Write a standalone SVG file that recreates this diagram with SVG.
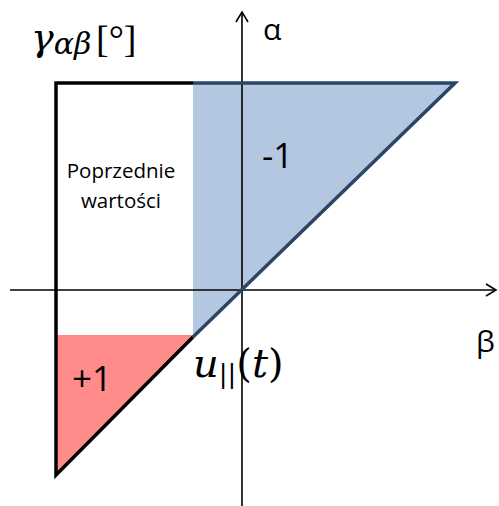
<svg xmlns="http://www.w3.org/2000/svg" width="499" height="506" viewBox="0 0 499 506">
<defs>
<style>
.ax{stroke:#000;stroke-width:1.6;fill:none}
.sans{font-family:"Open Sans","Liberation Sans",sans-serif;fill:#000}
.math{font-family:"DejaVu Serif","Liberation Serif",serif;font-style:italic;fill:#000}
</style>
<marker id="arr" markerWidth="14" markerHeight="14" refX="11" refY="7" orient="auto" markerUnits="userSpaceOnUse">
<path d="M1,1 L11,7 L1,13" fill="none" stroke="#000" stroke-width="1.6"/>
</marker>
</defs>
<rect width="499" height="506" fill="#fff"/>
<g id="regions">
<polygon id="minus-region" points="193,83 455,83 193,337" fill="#B3C7E1"/>
<polygon id="plus-region" points="56,335 193,335 193,337 56,475" fill="#FF8B8B"/>
</g>
<g id="connectors">
<line class="ax" x1="242" y1="506" x2="242" y2="12" marker-end="url(#arr)"/>
<line class="ax" x1="10" y1="290" x2="496" y2="290" marker-end="url(#arr)"/>
</g>
<g id="outline">
<polyline points="193,83 56,83 56,475 193,337" fill="none" stroke="#000" stroke-width="3.5" stroke-linejoin="miter"/>
<polyline points="193,83 455,83 193,337" fill="none" stroke="#2B4566" stroke-width="3.5" stroke-linejoin="miter"/>
</g>
<g id="labels">
<text class="math" x="31" y="50" font-size="38" font-weight="300">γ<tspan font-size="30" dy="4">αβ</tspan></text>
<text x="96" y="52" font-size="38" font-family="Liberation Serif, serif">[°]</text>
<text class="sans" x="263" y="40" font-size="30">α</text>
<text class="sans" x="476" y="352" font-size="30">β</text>
<text class="sans" x="262" y="168" font-size="35">-1</text>
<text class="sans" x="72" y="391" font-size="35">+1</text>
<text class="sans" x="121" y="178" font-size="20.5" text-anchor="middle">Poprzednie</text>
<text class="sans" x="121" y="208" font-size="20.5" text-anchor="middle">wartości</text>
<text class="math" x="193" y="377" font-size="40">u<tspan font-size="26" dy="6" font-style="normal">||</tspan><tspan dy="-6" font-style="normal">(</tspan>t<tspan font-style="normal">)</tspan></text>
</g>
</svg>
